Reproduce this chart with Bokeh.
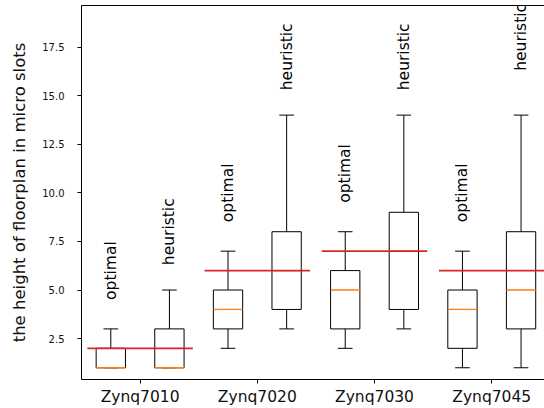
import numpy as np
from bokeh.plotting import figure
from bokeh.models import (ColumnDataSource, FixedTicker, LinearAxis, Range1d,
                          PrintfTickFormatter)
from bokeh.embed import file_html
from bokeh.resources import INLINE
from bokeh.core.properties import value

# ---- data ----
devices = ["Zynq7010", "Zynq7020", "Zynq7030", "Zynq7045"]
methods = ["optimal", "heuristic"]
whisker_low = [1, 1, 2, 3, 2, 3, 1, 1]
q1 = [1, 1, 3, 4, 3, 4, 2, 3]
median = [1, 1, 4, 6, 5, 7, 4, 5]
q3 = [2, 3, 5, 8, 6, 9, 5, 8]
whisker_high = [3, 5, 7, 14, 8, 14, 7, 14]
reference_height = [2, 6, 7, 6]
label_y = [6, 8, 10, 17, 11, 17, 10, 18]

FONT = "DejaVu Sans"
BOX_W = 0.5
CAP_W = 0.25
REF_HALF = 0.9

pos = np.arange(1, len(q1) + 1, dtype=float)
dev_pos = [1.5 + 2 * i for i in range(len(devices))]
labels = [methods[i % 2] for i in range(len(q1))]

src = ColumnDataSource(dict(
    pos=pos, lo=whisker_low, q1=q1, med=median, q3=q3, hi=whisker_high,
    left=pos - BOX_W / 2, right=pos + BOX_W / 2,
    cl=pos - CAP_W / 2, cr=pos + CAP_W / 2,
    ly=label_y, lab=labels,
))
ref = ColumnDataSource(dict(
    x0=[d - REF_HALF for d in dev_pos], x1=[d + REF_HALF for d in dev_pos],
    y=reference_height,
))

p = figure(width=544, height=408, output_backend="svg", toolbar_location=None,
           x_range=Range1d(0.5, 8.4), y_range=Range1d(0.396, 19.64),
           min_border_left=81, min_border_right=0, min_border_top=5,
           min_border_bottom=28)
p.xgrid.visible = False
p.ygrid.visible = False
p.outline_line_color = None
p.background_fill_color = "white"

# boxes
p.quad(left="left", right="right", bottom="q1", top="q3", source=src,
       fill_color="white", line_color="black", line_width=1)
# whiskers
p.segment(x0="pos", x1="pos", y0="q3", y1="hi", source=src, line_color="black", line_width=1)
p.segment(x0="pos", x1="pos", y0="lo", y1="q1", source=src, line_color="black", line_width=1)
# caps
p.segment(x0="cl", x1="cr", y0="hi", y1="hi", source=src, line_color="black", line_width=1)
p.segment(x0="cl", x1="cr", y0="lo", y1="lo", source=src, line_color="black", line_width=1)
# medians
p.segment(x0="left", x1="right", y0="med", y1="med", source=src,
          line_color="#ff7f0e", line_width=1.3)
# reference lines
p.segment(x0="x0", x1="x1", y0="y", y1="y", source=ref, line_color="#d62728", line_width=1.6)
# text labels
p.text(x="pos", y="ly", text="lab", source=src, angle=np.pi / 2,
       text_align="center", text_baseline="middle",
       text_font=value(FONT), text_font_size="15.5px", text_color="black")

# axes
xa = p.xaxis[0]
xa.ticker = FixedTicker(ticks=dev_pos)
xa.major_label_overrides = {d: n for d, n in zip(dev_pos, devices)}
xa.minor_tick_line_color = None
xa.major_tick_in = 0
xa.major_tick_out = 4
xa.major_label_standoff = 4
xa.major_label_text_font = FONT
xa.major_label_text_font_size = "15.5px"
xa.major_label_text_color = "#111111"
xa.axis_line_color = "black"

ya = p.yaxis[0]
ya.ticker = FixedTicker(ticks=[2.5, 5.0, 7.5, 10.0, 12.5, 15.0, 17.5])
ya.formatter = PrintfTickFormatter(format="%.1f")
ya.minor_tick_line_color = None
ya.major_tick_in = 0
ya.major_tick_out = 4
ya.major_label_standoff = 13
ya.major_label_text_font = FONT
ya.major_label_text_font_size = "10px"
ya.major_label_text_color = "#111111"
ya.axis_line_color = "black"
ya.axis_label = "the height of floorplan in micro slots"
ya.axis_label_text_font = FONT
ya.axis_label_text_font_size = "16.5px"
ya.axis_label_text_font_style = "normal"
ya.axis_label_text_color = "#111111"
ya.axis_label_standoff = 10

top = LinearAxis(ticker=FixedTicker(ticks=[]), major_tick_out=0, major_tick_in=0,
                 minor_tick_out=0, minor_tick_in=0, major_label_standoff=0,
                 major_label_text_font_size="0px", axis_line_color="black")
p.add_layout(top, "above")

open("out.html", "w").write(file_html(p, INLINE))
